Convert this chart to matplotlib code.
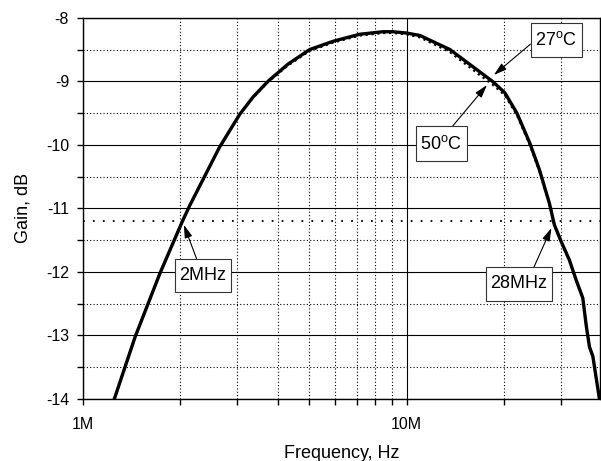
import matplotlib
matplotlib.use('Agg')
import matplotlib.pyplot as plt
from matplotlib.path import Path
from matplotlib.ticker import FixedLocator, NullFormatter

plt.rcParams['font.family'] = ['Liberation Sans', 'DejaVu Sans']
plt.rcParams['mathtext.fontset'] = 'custom'
plt.rcParams['mathtext.rm'] = 'Liberation Sans'

# frequency in MHz, gain in dB
freq_27 = [1.25, 1.45, 1.73, 2.03, 2.14, 2.64, 3.05, 3.35, 3.73, 4.3, 5.02,
           5.93, 7.16, 8.45, 9.07, 9.98, 11.0, 13.6, 16.8, 18.4, 20.1, 21.9,
           24.0, 25.7, 27.6, 28.6, 30.0, 31.8, 33.4, 35.0, 35.9, 36.7, 37.6,
           39.4]
gain_27 = [-14.0, -13.02, -12.02, -11.2, -10.95, -10.04, -9.52, -9.25, -9.0,
           -8.73, -8.5, -8.37, -8.26, -8.22, -8.22, -8.24, -8.28, -8.5, -8.85,
           -9.0, -9.18, -9.5, -9.97, -10.39, -10.92, -11.26, -11.52, -11.81,
           -12.13, -12.41, -12.86, -13.18, -13.33, -14.0]

freq_50 = [1.25, 1.45, 1.73, 2.03, 2.14, 2.64, 3.05, 3.35, 3.73, 4.3, 5.02,
           5.93, 7.16, 8.45, 9.07, 9.98, 11.0, 13.6, 16.8, 18.4, 20.1, 21.9,
           24.0, 25.7, 27.6, 28.6, 30.0, 31.8, 33.4, 35.0, 35.9, 36.7, 37.6,
           39.4]
gain_50 = [-14.0, -13.02, -12.02, -11.2, -10.95, -10.04, -9.52, -9.26, -9.01,
           -8.75, -8.52, -8.39, -8.28, -8.24, -8.24, -8.26, -8.31, -8.54, -8.9,
           -9.05, -9.22, -9.53, -10.0, -10.41, -10.93, -11.27, -11.53, -11.82,
           -12.14, -12.42, -12.86, -13.18, -13.33, -14.0]

ref_level = -11.2

xticks = [1, 10]
xticklabels = ['1M', '10M']
xminor = [2, 3, 4, 5, 6, 7, 8, 9, 20, 30]
yticks = [-8, -9, -10, -11, -12, -13, -14]
yminor = [-8.5, -9.5, -10.5, -11.5, -12.5, -13.5]

fig = plt.figure(figsize=(6.01, 4.61), dpi=100)
ax = fig.add_axes([0.138, 0.1345, 0.86, 0.827])

mhz = 1e6
ax.plot([f * mhz for f in freq_27], gain_27, color='black', lw=2.4,
        solid_joinstyle='round', zorder=4)
ax.plot([f * mhz for f in freq_50], gain_50, color='black', lw=1.6,
        ls=':', zorder=3)
ax.axhline(ref_level, color='black', lw=1.3, ls=(0, (1, 4.5)), zorder=2)

ax.set_xscale('log')
ax.set_xlim(1e6, 3.95e7)
ax.set_ylim(-14, -8)

ax.xaxis.set_major_locator(FixedLocator([x * mhz for x in xticks]))
ax.set_xticklabels(xticklabels)
ax.xaxis.set_minor_locator(FixedLocator([x * mhz for x in xminor]))
ax.xaxis.set_minor_formatter(NullFormatter())
ax.set_yticks(yticks)
ax.set_yticklabels([str(v) for v in yticks])
ax.yaxis.set_minor_locator(FixedLocator(yminor))

ax.grid(which='major', color='black', lw=0.8, ls='-')
ax.grid(which='minor', color='black', lw=0.8, ls=(0, (1, 2)))
ax.set_axisbelow(True)

ax.tick_params(which='both', direction='out', length=4, width=1,
               labelsize=11.5, top=False, right=False)
ax.tick_params(axis='x', pad=9)
ax.tick_params(axis='y', pad=6)
for s in ax.spines.values():
    s.set_linewidth(1)

ax.set_xlabel('Frequency, Hz', fontsize=13, labelpad=9)
ax.set_ylabel('Gain, dB', fontsize=13, labelpad=10)


def tall_box(x0, y0, width, height, mutation_size):
    # rectangle with more padding top/bottom than left/right
    px = 0.25 * mutation_size
    py = 0.45 * mutation_size
    x0, y0 = x0 - px, y0 - py
    x1, y1 = x0 + width + 2 * px, y0 + height + 2 * py
    return Path([(x0, y0), (x1, y0), (x1, y1), (x0, y1), (x0, y0)],
                closed=True)


box = dict(boxstyle=tall_box, fc='white', ec='#333333', lw=0.8)


def note(text, xy, xytext, rel):
    ax.annotate(text, xy=(xy[0] * mhz, xy[1]), xytext=(xytext[0] * mhz, xytext[1]),
                fontsize=13, ha='center', va='center', bbox=box, zorder=6,
                arrowprops=dict(arrowstyle='-|>,head_length=0.6,head_width=0.18',
                                color='black', lw=0.8, relpos=rel,
                                shrinkA=0, shrinkB=0))


note('27$^\\mathregular{o}$C', (18.6, -8.9), (29.0, -8.35), (0, 0.5))
note('50$^\\mathregular{o}$C', (17.7, -9.06), (12.8, -9.98), (0.6, 1))
note('2MHz', (2.05, -11.26), (2.35, -12.06), (0.43, 1))
note('28MHz', (28.0, -11.31), (22.2, -12.19), (0.7, 1))

fig.savefig('out.png', dpi=100)
